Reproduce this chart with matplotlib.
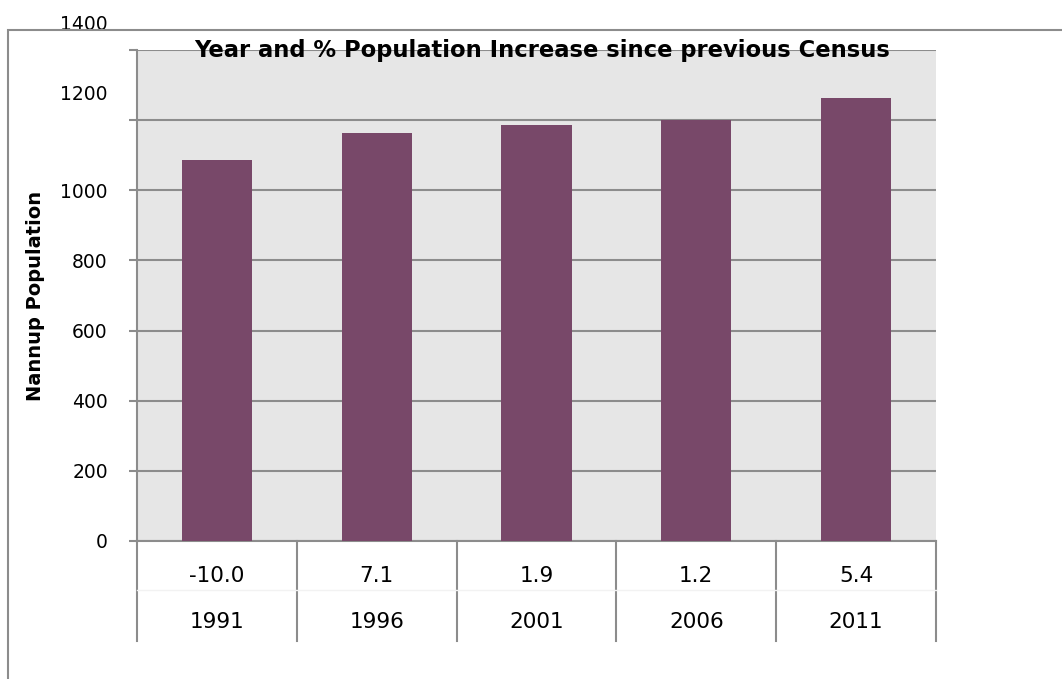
import matplotlib.pyplot as plt
from matplotlib.patches import Rectangle
from matplotlib.transforms import ScaledTranslation

# ============================ #
# Data                         #
# ============================ #
years = ["1991", "1996", "2001", "2006", "2011"]
pct_increase = ["-10.0", "7.1", "1.9", "1.2", "5.4"]
population = [1086, 1163, 1185, 1199, 1264]
y_ticks = [0, 200, 400, 600, 800, 1000, 1200, 1400]

BAR_COLOR = "#784869"
GRID_COLOR = "#8c8c8c"
BG_COLOR = "#e6e6e6"

plt.rcParams["font.family"] = ["DejaVu Sans"]

W, H = 1062, 679
fig = plt.figure(figsize=(W / 100, H / 100), dpi=100)

# outer chart frame (right/bottom edges fall outside the picture)
fig.patches.append(Rectangle((8 / W, -0.2), 1.2, (H - 30) / H + 0.2,
                             transform=fig.transFigure, fill=False,
                             edgecolor=GRID_COLOR, linewidth=1.5))

left, right, top, bottom = 137, 936, 50, 541
ax = fig.add_axes([left / W, (H - bottom) / H, (right - left) / W, (bottom - top) / H])
ax.set_facecolor(BG_COLOR)

x = list(range(len(years)))
ax.bar(x, population, width=0.44, color=BAR_COLOR, zorder=3)

ax.set_xlim(-0.5, len(years) - 0.5)
ax.set_ylim(0, 1400)
ax.set_yticks(y_ticks)
ax.set_yticklabels([str(v) for v in y_ticks], fontsize=13.5)
ax.yaxis.grid(True, color=GRID_COLOR, linewidth=1.5, zorder=1)
ax.tick_params(axis="y", length=6, width=1.5, color=GRID_COLOR, pad=15)
ax.set_xticks([])

# the top two labels sit higher than their gridlines in the original
offset = ScaledTranslation(0, 0.28, fig.dpi_scale_trans)
for lbl in ax.get_yticklabels()[-2:]:
    lbl.set_transform(lbl.get_transform() + offset)

for side in ["top", "right"]:
    ax.spines[side].set_visible(False)
for side in ["left", "bottom"]:
    ax.spines[side].set_color(GRID_COLOR)
    ax.spines[side].set_linewidth(1.5)

# data table under the axis
tr = ax.get_xaxis_transform()
for b in range(len(years) + 1):
    ax.plot([b - 0.5, b - 0.5], [0, -0.2037], transform=tr, color=GRID_COLOR,
            linewidth=1.5, clip_on=False)
ax.plot([-0.5, len(years) - 0.5], [-0.1, -0.1], transform=tr, color="#f2f2f2",
        linewidth=1, clip_on=False)
for i in x:
    ax.text(i, -0.0713, pct_increase[i], transform=tr, ha="center", va="center",
            fontsize=15.5)
    ax.text(i, -0.165, years[i], transform=tr, ha="center", va="center",
            fontsize=15.5)

fig.text(542 / W, 1 - 51 / H, "Year and % Population Increase since previous Census",
         ha="center", va="center", fontsize=16.3, fontweight="bold")
fig.text(36 / W, 1 - 296 / H, "Nannup Population", rotation=90,
         ha="center", va="center", fontsize=14, fontweight="bold")

fig.savefig("out.png", dpi=100)
